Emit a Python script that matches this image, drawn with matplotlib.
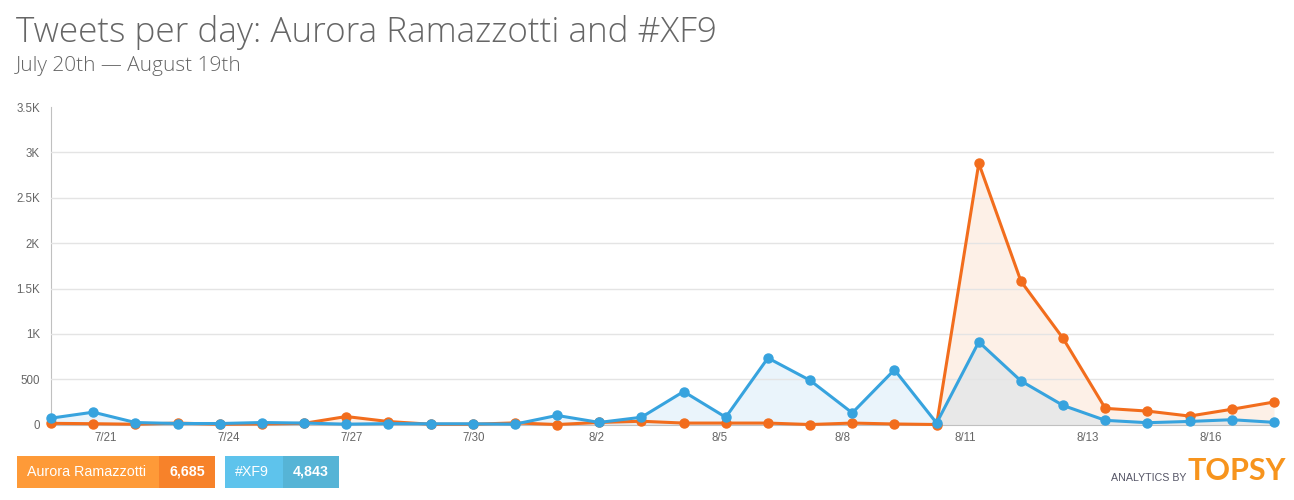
import numpy as np
import matplotlib
matplotlib.use('Agg')
import matplotlib.pyplot as plt
from matplotlib.patches import Rectangle

plt.rcParams['font.family'] = ['Liberation Sans', 'DejaVu Sans']

# daily tweet counts, July 20th onwards
aurora = [15, 11, 5, 18, 5, 8, 15, 90, 35, 5, 5, 20, 2, 25, 38, 18, 18, 18,
          2, 18, 8, 2, 2880, 1580, 950, 180, 150, 95, 170, 250]
xf9 = [72, 138, 24, 13, 13, 24, 18, 6, 12, 10, 10, 6, 102, 25, 82, 365, 82,
       735, 488, 130, 605, 18, 912, 482, 212, 48, 22, 36, 55, 26]

tick_pos = [1.3, 4.21, 7.12, 10.03, 12.94, 15.85, 18.76, 21.67, 24.58, 27.49]
tick_labels = ['7/21', '7/24', '7/27', '7/30', '8/2', '8/5', '8/8', '8/11', '8/13', '8/16']
y_ticks = [0, 500, 1000, 1500, 2000, 2500, 3000, 3500]
y_labels = ['0', '500', '1K', '1.5K', '2K', '2.5K', '3K', '3.5K']

totals = {'Aurora Ramazzotti': '6,685', '#XF9': '4,843'}

orange = '#f26d1d'
blue = '#37a3de'

x = np.arange(len(aurora))
a = np.array(aurora, dtype=float)
b = np.array(xf9, dtype=float)

fig = plt.figure(figsize=(12.94, 5.0), dpi=100)
ax = fig.add_axes([51 / 1294, 1 - 424.7 / 500, (1274 - 51) / 1294, (424.7 - 107) / 500])

ax.fill_between(x, 0, b, color='#eaf4fb', lw=0, zorder=1)
ax.fill_between(x, 0, a, color='#fdf0e7', lw=0, zorder=1)
ax.fill_between(x, 0, np.minimum(a, b), color='#e8e8e8', lw=0, zorder=1)

ax.plot(x, a, color=orange, lw=2.2, marker='o', ms=6.5, clip_on=False, zorder=4)
ax.plot(x, b, color=blue, lw=2.2, marker='o', ms=6.5, clip_on=False, zorder=5)

ax.set_xlim(0, len(aurora) - 1)
ax.set_ylim(0, 3500)
ax.set_yticks(y_ticks)
ax.set_yticklabels(y_labels)
ax.set_xticks(tick_pos)
ax.set_xticklabels(tick_labels)
ax.tick_params(length=0, colors='#666666', labelsize=8.3)
ax.tick_params(axis='y', pad=8)
ax.tick_params(axis='x', pad=5)
ax.grid(axis='y', color='#e4e4e4', lw=1, zorder=2)
ax.get_ygridlines()[-1].set_visible(False)
ax.get_ygridlines()[0].set_visible(False)
for s in ['top', 'right']:
    ax.spines[s].set_visible(False)
ax.spines['left'].set_color('#c0c0c0')
ax.spines['bottom'].set_color('#c0c0c0')
ax.set_axisbelow(False)
ax.patch.set_alpha(0)

# title and subtitle
fig.text(16 / 1294, 1 - 32 / 500, 'Tweets per day: Aurora Ramazzotti and #XF9',
         family='Open Sans', fontweight='light', fontsize=25.3, color='#666666', va='center')
fig.text(16 / 1294, 1 - 66 / 500, 'July 20th \u2014 August 19th',
         family='Open Sans', fontweight='light', fontsize=15, color='#666666', va='center')

# legend buttons
def button(x0, split, x1, y0, y1, c1, c2, name, total):
    fig.patches.append(Rectangle((x0 / 1294, 1 - y1 / 500), (split - x0) / 1294, (y1 - y0) / 500,
                                 transform=fig.transFigure, color=c1, lw=0))
    fig.patches.append(Rectangle((split / 1294, 1 - y1 / 500), (x1 - split) / 1294, (y1 - y0) / 500,
                                 transform=fig.transFigure, color=c2, lw=0))
    yc = 1 - (y0 + y1) / 2 / 500
    fig.text((x0 + 10) / 1294, yc, name, color='white', fontsize=10.3, va='center')
    fig.text((split + x1) / 2 / 1294, yc, total, color='white', fontsize=10.3,
             fontweight='bold', va='center', ha='center')

button(17, 159, 215, 456, 488, '#fe9a38', '#f7822a', 'Aurora Ramazzotti', totals['Aurora Ramazzotti'])
button(225, 283, 339, 456, 488, '#5ec3ec', '#56b4d6', '#XF9', totals['#XF9'])

fig.text(1186 / 1294, 1 - 478 / 500, 'ANALYTICS BY', color='#555566', fontsize=7.7,
         ha='right', va='center')
fig.text(1187 / 1294, 1 - 471 / 500, 'TOPSY', color='#f7941d', fontsize=22,
         fontweight='bold', ha='left', va='center', family='Lato')

fig.savefig('out.png', dpi=100)
